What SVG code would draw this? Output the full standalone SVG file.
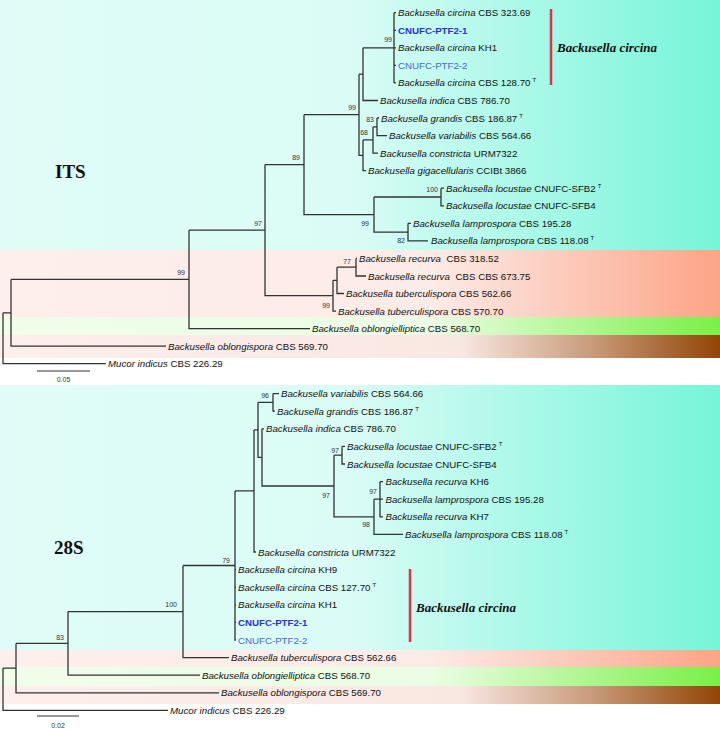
<svg xmlns="http://www.w3.org/2000/svg" width="720" height="730" viewBox="0 0 720 730">
<defs>
<linearGradient id="gC" gradientUnits="userSpaceOnUse" x1="0" y1="0" x2="720" y2="0">
<stop offset="0" stop-color="#e0fcf8"/><stop offset="0.48" stop-color="#dbfcf6"/><stop offset="1" stop-color="#76f5d9"/>
</linearGradient>
<linearGradient id="gS" gradientUnits="userSpaceOnUse" x1="0" y1="0" x2="720" y2="0">
<stop offset="0" stop-color="#fdefec"/><stop offset="0.6" stop-color="#fdebe7"/><stop offset="1" stop-color="#fca487"/>
</linearGradient>
<linearGradient id="gG" gradientUnits="userSpaceOnUse" x1="0" y1="0" x2="720" y2="0">
<stop offset="0" stop-color="#f0fdea"/><stop offset="0.6" stop-color="#ebfde4"/><stop offset="1" stop-color="#7af046"/>
</linearGradient>
<linearGradient id="gB" gradientUnits="userSpaceOnUse" x1="0" y1="0" x2="720" y2="0">
<stop offset="0" stop-color="#fdefec"/><stop offset="0.64" stop-color="#f9e7e2"/><stop offset="0.82" stop-color="#c99c7c"/><stop offset="1" stop-color="#934406"/>
</linearGradient>
<style>
.br{stroke:#333;stroke-width:1.3;fill:none}
.t{font-family:"Liberation Sans",Arial,sans-serif;font-size:9.7px;fill:#111}
.i{font-style:italic}
.s{font-size:6px}
.bs{font-family:"Liberation Sans",Arial,sans-serif;font-size:7px;fill:#333;text-anchor:end}
.hd{font-family:"Liberation Serif","Times New Roman",serif;font-size:19px;font-weight:bold;fill:#111}
.cl{font-family:"Liberation Serif","Times New Roman",serif;font-size:13px;font-weight:bold;font-style:italic;fill:#111}
.red{stroke:#dd3344;stroke-width:2.5}
.b1{fill:#2233dd;font-weight:bold}
.b2{fill:#4466e0}
</style>
</defs>
<rect width="720" height="730" fill="#fff"/>
<g id="bands">
<rect x="0" y="0" width="720" height="250" fill="url(#gC)"/>
<rect x="0" y="250" width="720" height="67" fill="url(#gS)"/>
<rect x="0" y="317" width="720" height="18" fill="url(#gG)"/>
<rect x="0" y="335" width="720" height="23" fill="url(#gB)"/>
<rect x="0" y="385" width="720" height="265" fill="url(#gC)"/>
<rect x="0" y="650" width="720" height="17" fill="url(#gS)"/>
<rect x="0" y="667" width="720" height="19" fill="url(#gG)"/>
<rect x="0" y="686" width="720" height="18" fill="url(#gB)"/>
</g>
<g id="connectors">
<path class="br" d="M3,312.8V363.7H106 M3,312.8H11 M11,279.4V346.2H166 M11,279.4H189 M189,230.15V328.6H310 M189,230.15H265 M265,164.6V295.7H333 M265,164.6H304 M304,114.7V214.55H374 M304,114.7H359 M359,74.15V155.3H363 M359,74.15H363 M363,47.8V100.5H378 M363,47.8H394 M394,12.7V82.9 M394,12.7H396 M394,30.3H396 M394,47.8H396 M394,65.4H396 M394,82.9H396 M363,139.95V170.7H366 M363,139.95H373 M373,126.8V153.1H378 M373,126.8H377 M377,118V135.6H387 M377,118H379 M374,197V232.1H408 M374,197H441 M441,188.2V205.8H444 M441,188.2H444 M408,223.3V240.9H428 M408,223.3H411 M333,280.35V311.1H336 M333,280.35H337 M337,267.2V293.5H344 M337,267.2H356 M356,258.4V276H366 M356,258.4H357"/>
<path class="br" d="M3,668.1V710.4H168 M3,668.1H16 M16,643.4V692.8H219 M16,643.4H68 M68,611.55V675.2H200 M68,611.55H183 M183,565.5V657.6H229 M183,565.5H235 M235,490.95V640H236 M235,569.6H236 M235,587.2H236 M235,604.8H236 M235,622.4H236 M235,490.95H254 M254,429.9V552H256 M254,429.9H258 M258,402.4V457.4H262 M258,402.4H273 M273,393.6V411.2H275 M273,393.6H279 M262,428.8V486H334 M262,428.8H264 M334,455.2V516.8H374 M334,455.2H342 M342,446.4V464H345 M342,446.4H345 M374,499.2V534.4H403 M374,499.2H380 M380,481.6V516.8H383 M380,481.6H383 M380,499.2H383"/>
</g>
<g id="top-tree">
<g id="t1"><text class="t" x="398" y="16.2"><tspan class="i">Backusella circina</tspan> CBS 323.69</text></g>
<g id="t2"><text class="t b1" x="398" y="33.8">CNUFC-PTF2-1</text></g>
<g id="t3"><text class="t" x="398" y="51.3"><tspan class="i">Backusella circina</tspan> KH1</text></g>
<g id="t4"><text class="t b2" x="398" y="68.9">CNUFC-PTF2-2</text></g>
<g id="t5"><text class="t" x="398" y="86.4"><tspan class="i">Backusella circina</tspan> CBS 128.70<tspan class="s" dx="2" dy="-4">T</tspan></text></g>
<g id="t6"><text class="t" x="380" y="104"><tspan class="i">Backusella indica</tspan> CBS 786.70</text></g>
<g id="t7"><text class="t" x="381" y="121.5"><tspan class="i">Backusella grandis</tspan> CBS 186.87<tspan class="s" dx="2" dy="-4">T</tspan></text></g>
<g id="t8"><text class="t" x="389" y="139.1"><tspan class="i">Backusella variabilis</tspan> CBS 564.66</text></g>
<g id="t9"><text class="t" x="380" y="156.6"><tspan class="i">Backusella constricta</tspan> URM7322</text></g>
<g id="t10"><text class="t" x="368" y="174.2"><tspan class="i">Backusella gigacellularis</tspan> CCIBt 3866</text></g>
<g id="t11"><text class="t" x="446" y="191.7"><tspan class="i">Backusella locustae</tspan> CNUFC-SFB2<tspan class="s" dx="2" dy="-4">T</tspan></text></g>
<g id="t12"><text class="t" x="446" y="209.3"><tspan class="i">Backusella locustae</tspan> CNUFC-SFB4</text></g>
<g id="t13"><text class="t" x="413" y="226.8"><tspan class="i">Backusella lamprospora</tspan> CBS 195.28</text></g>
<g id="t14"><text class="t" x="431" y="244.4"><tspan class="i">Backusella lamprospora</tspan> CBS 118.08<tspan class="s" dx="2" dy="-4">T</tspan></text></g>
<g id="t15"><text class="t" x="359" y="261.9"><tspan class="i">Backusella recurva</tspan><tspan dx="3"> CBS 318.52</tspan></text></g>
<g id="t16"><text class="t" x="368" y="279.5"><tspan class="i">Backusella recurva</tspan><tspan dx="3"> CBS CBS 673.75</tspan></text></g>
<g id="t17"><text class="t" x="346" y="297"><tspan class="i">Backusella tuberculispora</tspan> CBS 562.66</text></g>
<g id="t18"><text class="t" x="338" y="314.6"><tspan class="i">Backusella tuberculispora</tspan> CBS 570.70</text></g>
<g id="t19"><text class="t" x="312" y="332.1"><tspan class="i">Backusella oblongielliptica</tspan> CBS 568.70</text></g>
<g id="t20"><text class="t" x="168" y="349.7"><tspan class="i">Backusella oblongispora</tspan> CBS 569.70</text></g>
<g id="t21"><text class="t" x="108" y="367.2"><tspan class="i">Mucor indicus</tspan> CBS 226.29</text></g>
<g id="top-support">
<text class="bs" x="392" y="42">99</text>
<text class="bs" x="356" y="109.5">99</text>
<text class="bs" x="374" y="121.5">83</text>
<text class="bs" x="368" y="134.5">68</text>
<text class="bs" x="300" y="159.5">89</text>
<text class="bs" x="262" y="225.5">97</text>
<text class="bs" x="185" y="274.5">99</text>
<text class="bs" x="438" y="191.5">100</text>
<text class="bs" x="369" y="225.5">99</text>
<text class="bs" x="405" y="242.5">82</text>
<text class="bs" x="351" y="263.5">77</text>
<text class="bs" x="330" y="307.5">99</text>
</g>
<g id="top-label">
<text class="hd" x="55" y="178">ITS</text>
<line class="red" x1="551" y1="9" x2="551" y2="85"/>
<text class="cl" x="557" y="51.5">Backusella circina</text>
</g>
<g id="top-scale">
<line x1="37" y1="371" x2="90" y2="371" stroke="#333" stroke-width="1"/>
<text class="bs" x="63.5" y="382" style="text-anchor:middle">0.05</text>
</g>
</g>
<g id="bottom-tree">
<g id="u1"><text class="t" x="281" y="397.1"><tspan class="i">Backusella variabilis</tspan> CBS 564.66</text></g>
<g id="u2"><text class="t" x="277" y="414.7"><tspan class="i">Backusella grandis</tspan> CBS 186.87<tspan class="s" dx="2" dy="-4">T</tspan></text></g>
<g id="u3"><text class="t" x="266" y="432.3"><tspan class="i">Backusella indica</tspan> CBS 786.70</text></g>
<g id="u4"><text class="t" x="347" y="449.9"><tspan class="i">Backusella locustae</tspan> CNUFC-SFB2<tspan class="s" dx="2" dy="-4">T</tspan></text></g>
<g id="u5"><text class="t" x="347" y="467.5"><tspan class="i">Backusella locustae</tspan> CNUFC-SFB4</text></g>
<g id="u6"><text class="t" x="385.5" y="485.1"><tspan class="i">Backusella recurva</tspan> KH6</text></g>
<g id="u7"><text class="t" x="385.5" y="502.7"><tspan class="i">Backusella lamprospora</tspan> CBS 195.28</text></g>
<g id="u8"><text class="t" x="385.5" y="520.3"><tspan class="i">Backusella recurva</tspan> KH7</text></g>
<g id="u9"><text class="t" x="405" y="537.9"><tspan class="i">Backusella lamprospora</tspan> CBS 118.08<tspan class="s" dx="2" dy="-4">T</tspan></text></g>
<g id="u10"><text class="t" x="258" y="555.5"><tspan class="i">Backusella constricta</tspan> URM7322</text></g>
<g id="u11"><text class="t" x="238" y="573.1"><tspan class="i">Backusella circina</tspan> KH9</text></g>
<g id="u12"><text class="t" x="238" y="590.7"><tspan class="i">Backusella circina</tspan> CBS 127.70<tspan class="s" dx="2" dy="-4">T</tspan></text></g>
<g id="u13"><text class="t" x="238" y="608.3"><tspan class="i">Backusella circina</tspan> KH1</text></g>
<g id="u14"><text class="t b1" x="238" y="625.9">CNUFC-PTF2-1</text></g>
<g id="u15"><text class="t b2" x="238" y="643.5">CNUFC-PTF2-2</text></g>
<g id="u16"><text class="t" x="231" y="661.1"><tspan class="i">Backusella tuberculispora</tspan> CBS 562.66</text></g>
<g id="u17"><text class="t" x="202" y="678.7"><tspan class="i">Backusella oblongielliptica</tspan> CBS 568.70</text></g>
<g id="u18"><text class="t" x="221" y="696.3"><tspan class="i">Backusella oblongispora</tspan> CBS 569.70</text></g>
<g id="u19"><text class="t" x="170" y="713.9"><tspan class="i">Mucor indicus</tspan> CBS 226.29</text></g>
<g id="bottom-support">
<text class="bs" x="269" y="397.5">96</text>
<text class="bs" x="339" y="452.5">97</text>
<text class="bs" x="330" y="497.5">97</text>
<text class="bs" x="377" y="493.5">97</text>
<text class="bs" x="370" y="527">98</text>
<text class="bs" x="230" y="562.5">79</text>
<text class="bs" x="177" y="606.5">100</text>
<text class="bs" x="64" y="639.5">83</text>
</g>
<g id="bottom-label">
<text class="hd" x="54" y="554">28S</text>
<line class="red" x1="410" y1="569" x2="410" y2="642"/>
<text class="cl" x="416" y="612">Backusella circina</text>
</g>
<g id="bottom-scale">
<line x1="37" y1="716" x2="79" y2="716" stroke="#333" stroke-width="1"/>
<text class="bs" x="58" y="727.5" style="text-anchor:middle">0.02</text>
</g>
</g>
</svg>
